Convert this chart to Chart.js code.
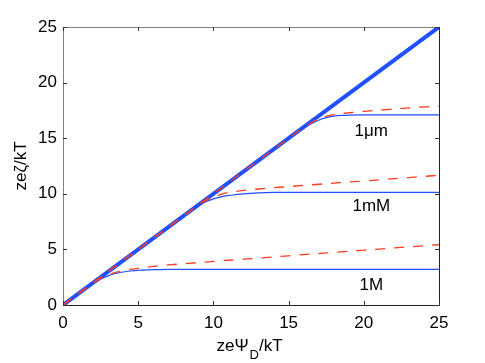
<!DOCTYPE html>
<html>
<head>
<meta charset="utf-8">
<script src="https://cdn.jsdelivr.net/npm/chart.js@4/dist/chart.umd.min.js"></script>
<style>
  body { margin: 0; background: #fff; }
  #wrap { width: 485px; height: 363px; }
</style>
</head>
<body>
<div id="wrap"><canvas id="c"></canvas></div>
<script>
// diagonal (no saturation)
const xLine = [0, 25];
const yLine = [0, 25];

// 1M
const x1M = [0, 1, 1.5, 2, 2.5, 3, 3.5, 4, 4.5, 5, 6, 7, 8, 9, 10, 12, 14, 16, 18, 20, 22, 25];
const blue1M = [0, 1, 1.49, 1.95, 2.33, 2.62, 2.83, 2.97, 3.06, 3.12, 3.18, 3.21, 3.21, 3.21, 3.21, 3.21, 3.21, 3.21, 3.21, 3.21, 3.21, 3.21];
const red1M = [0, 1, 1.49, 1.96, 2.38, 2.7, 2.93, 3.08, 3.2, 3.3, 3.47, 3.6, 3.71, 3.82, 3.92, 4.12, 4.32, 4.53, 4.73, 4.93, 5.13, 5.42];

// 1mM
const x1mM = [0, 5, 8, 8.5, 9, 9.5, 10, 10.5, 11, 11.5, 12, 13, 14, 15, 17, 19, 21, 23, 25];
const blue1mM = [0, 5, 8, 8.5, 8.95, 9.3, 9.55, 9.73, 9.85, 9.93, 10.0, 10.08, 10.12, 10.13, 10.13, 10.13, 10.13, 10.13, 10.13];
const red1mM = [0, 5, 8, 8.5, 8.97, 9.38, 9.7, 9.95, 10.12, 10.22, 10.3, 10.43, 10.55, 10.65, 10.86, 11.06, 11.26, 11.46, 11.67];

// 1um
const x1um = [0, 10, 14, 15, 15.5, 16, 16.5, 17, 17.5, 18, 18.5, 19, 20, 21, 22, 23, 24, 25];
const blue1um = [0, 10, 14, 15, 15.48, 15.92, 16.3, 16.62, 16.85, 16.98, 17.05, 17.08, 17.1, 17.1, 17.1, 17.1, 17.1, 17.1];
const red1um = [0, 10, 14, 15, 15.49, 15.95, 16.38, 16.74, 16.97, 17.12, 17.22, 17.29, 17.41, 17.52, 17.62, 17.72, 17.81, 17.9];

const tickVals = [0, 5, 10, 15, 20, 25];

// curve labels
const curveNames = ['1\u03bcm', '1mM', '1M'];
const nameX = [20.5, 20.5, 20.5];
const nameY = [15.65, 8.9, 1.75];

const FONT = '"Liberation Sans", Arial, Helvetica, sans-serif';
const BLUE = '#2050ff';
const RED = '#ff3b1f';

function pts(xs, ys) {
    return xs.map((x, i) => ({ x: x, y: ys[i] }));
}

function thin(xs, ys) {
    return { data: pts(xs, ys), borderColor: BLUE, borderWidth: 1.2, order: 2 };
}
function dashed(xs, ys) {
    return { data: pts(xs, ys), borderColor: RED, borderWidth: 1.3, borderDash: [10, 9], order: 1 };
}

const framePlugin = {
    id: 'frame',
    afterDatasetsDraw(chart) {
        const { ctx, chartArea: a, scales: { x, y } } = chart;
        ctx.save();
        // box
        ctx.lineWidth = 1;
        ctx.strokeStyle = '#808080';
        ctx.beginPath();
        ctx.moveTo(a.left + 0.5, a.bottom);
        ctx.lineTo(a.left + 0.5, a.top + 0.5);
        ctx.lineTo(a.right, a.top + 0.5);
        ctx.stroke();
        ctx.strokeStyle = '#222';
        ctx.beginPath();
        ctx.moveTo(a.left, a.bottom + 0.5);
        ctx.lineTo(a.right + 0.5, a.bottom + 0.5);
        ctx.lineTo(a.right + 0.5, a.top);
        ctx.stroke();
        // inward ticks
        ctx.strokeStyle = '#333';
        ctx.beginPath();
        tickVals.forEach(v => {
            const px = Math.round(x.getPixelForValue(v)) + 0.5;
            const py = Math.round(y.getPixelForValue(v)) + 0.5;
            ctx.moveTo(px, a.bottom); ctx.lineTo(px, a.bottom - 4);
            ctx.moveTo(px, a.top); ctx.lineTo(px, a.top + 4);
            ctx.moveTo(a.left, py); ctx.lineTo(a.left + 4, py);
            ctx.moveTo(a.right, py); ctx.lineTo(a.right - 4, py);
        });
        ctx.stroke();

        // curve labels
        ctx.fillStyle = '#000';
        ctx.font = '17px ' + FONT;
        ctx.textAlign = 'center';
        ctx.textBaseline = 'middle';
        curveNames.forEach((t, i) => {
            ctx.fillText(t, x.getPixelForValue(nameX[i]), y.getPixelForValue(nameY[i]));
        });

        // x title with subscript
        const main1 = 'ze\u03a8', sub = 'D', main2 = '/kT';
        ctx.textAlign = 'left';
        ctx.textBaseline = 'alphabetic';
        ctx.font = '17px ' + FONT;
        const w1 = ctx.measureText(main1).width;
        const w3 = ctx.measureText(main2).width;
        ctx.font = '13px ' + FONT;
        const w2 = ctx.measureText(sub).width;
        let sx = (a.left + a.right) / 2 - 2 - (w1 + w2 + w3) / 2;
        const base = a.bottom + 46;
        ctx.font = '17px ' + FONT;
        ctx.fillText(main1, sx, base);
        ctx.font = '13px ' + FONT;
        ctx.fillText(sub, sx + w1 + 1, base + 8);
        ctx.font = '17px ' + FONT;
        ctx.fillText(main2, sx + w1 + w2 + 1, base);

        // y title
        ctx.translate(26, (a.top + a.bottom) / 2);
        ctx.rotate(-Math.PI / 2);
        ctx.textAlign = 'center';
        ctx.fillText('ze\u03b6/kT', 0, 0);
        ctx.restore();
    }
};

new Chart(document.getElementById('c'), {
    type: 'scatter',
    data: {
        datasets: [
            dashed(x1um, red1um),
            dashed(x1mM, red1mM),
            dashed(x1M, red1M),
            thin(x1um, blue1um),
            thin(x1mM, blue1mM),
            thin(x1M, blue1M),
            { data: pts(xLine, yLine), borderColor: BLUE, borderWidth: 4, order: 3 }
        ]
    },
    options: {
        responsive: true,
        maintainAspectRatio: false,
        animation: false,
        showLine: true,
        elements: {
            point: { radius: 0, hoverRadius: 0 },
            line: { cubicInterpolationMode: 'monotone', fill: false, borderCapStyle: 'butt' }
        },
        layout: { padding: { top: 27, right: 46, left: 0, bottom: 0 } },
        plugins: { legend: { display: false }, tooltip: { enabled: false } },
        scales: {
            x: {
                type: 'linear', min: 0, max: 25,
                afterFit(s) { s.height = 58; },
                afterBuildTicks(s) { s.ticks = tickVals.map(v => ({ value: v })); },
                grid: { display: false, drawTicks: false },
                border: { display: false },
                ticks: { color: '#000', padding: 8, font: { family: FONT, size: 17 }, maxRotation: 0 }
            },
            y: {
                type: 'linear', min: 0, max: 25,
                afterFit(s) { s.width = 63; },
                afterBuildTicks(s) { s.ticks = tickVals.map(v => ({ value: v })); },
                grid: { display: false, drawTicks: false },
                border: { display: false },
                ticks: { color: '#000', padding: 6, font: { family: FONT, size: 17 } }
            }
        }
    },
    plugins: [framePlugin]
});
</script>
</body>
</html>
